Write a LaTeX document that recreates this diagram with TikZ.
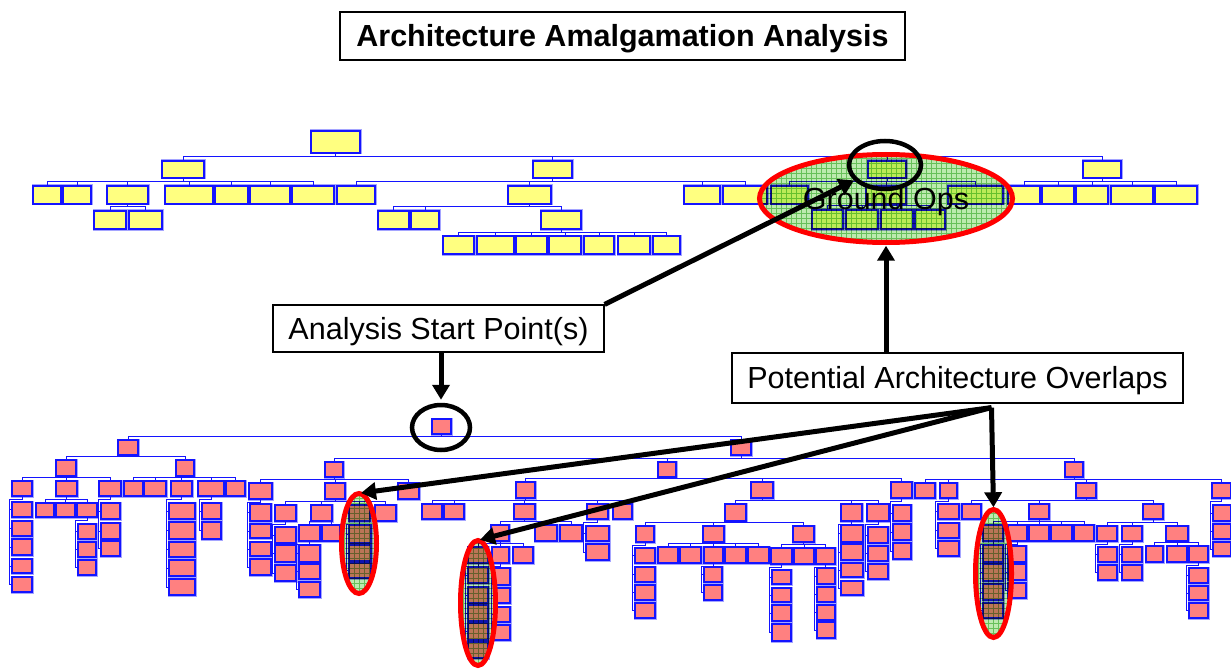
\documentclass[tikz,border=0pt]{standalone}
\usepackage{fontspec}
\setmainfont{Liberation Sans}
\usetikzlibrary{arrows.meta,shapes.geometric}
\definecolor{boxblue}{RGB}{20,20,255}
\definecolor{halo}{RGB}{165,165,255}
\definecolor{yfill}{RGB}{255,255,128}
\definecolor{pfill}{RGB}{255,128,128}
\definecolor{ovgreen}{RGB}{188,234,175}
\definecolor{ovgrid}{RGB}{140,210,132}
\definecolor{ovred}{RGB}{255,0,0}
\tikzset{
  wire/.style={draw=boxblue, line width=0.9pt},
  orgbox/.style={rectangle, draw=boxblue, line width=1.1pt, inner sep=0pt, preaction={draw=halo, line width=3pt}},
  ybox/.style={orgbox, fill=yfill},
  pbox/.style={orgbox, fill=pfill},
  lbl/.style={rectangle, draw=black, line width=1.2pt, fill=white, font=\fontsize{30.5}{36}\selectfont, text height=21.5pt, text depth=0pt, inner sep=0pt},
  hilite/.style={ellipse, inner sep=0pt, fill=ovgreen, blend mode=multiply,
    path picture={\draw[ovgrid, line width=0.45pt, step=5pt] (path picture bounding box.south west) grid (path picture bounding box.north east);},
    postaction={draw=ovred, line width=5pt, blend mode=normal}},
  ring/.style={ellipse, inner sep=0pt, draw=black, line width=4.5pt},
  arr/.style={draw=black, line width=5pt, -{Triangle[length=15pt,width=17pt]}},
}
\begin{document}
\begin{tikzpicture}[x=1pt,y=-1pt]
  \useasboundingbox (0,0) rectangle (1231,671);
  \def\bus{3.5pt} % hauteur du bus
  \def\bx#1#2#3#4#5#6{\node[#1, minimum width={(#5-#3)*1pt}, minimum height={(#6-#4)*1pt}] (#2) at ({(#3+#5)/2},{(#4+#6)/2}) {};}
  \def\hrow#1#2#3#4#5{\foreach \n/\xa/\xb in {#5} {\bx{#1}{\n}{\xa}{#3}{\xb}{#4}
      \draw[wire] (#2.south) |- ([yshift=\bus]\n.north) -- (\n.north);}}
  \def\vrow#1#2#3#4#5{\foreach \n/\ya/\yb in {#5} {\bx{#1}{\n}{#3}{\ya}{#4}{\yb}
      \draw[wire] (#2.south) -- ++(0,3) -| ([xshift=-2pt]\n.west) -- (\n.west);}}

  % top tree
  \bx{ybox}{t0}{311}{131}{360}{153}
  \hrow{ybox}{t0}{161}{178}{t1/162/204, t2/533/572, t3/868/906, t4/1083/1121}
  \hrow{ybox}{t1}{186}{204}{t11/33/61, t12/63/91, t13/107/148, t14/165/213, t15/215/248, t16/250/290, t17/292/334}
  \hrow{ybox}{t13}{211}{229}{t131/94/126, t132/129/162}
  \hrow{ybox}{t2}{186}{204}{t21/337/375, t22/508/551, t23/684/720, t24/723/767}
  \hrow{ybox}{t22}{211}{229}{t221/378/409, t222/411/439, t223/541/581}
  \hrow{ybox}{t223}{236}{254}{t2231/443/474, t2232/477/514, t2233/516/547, t2234/549/581, t2235/584/614, t2236/618/650, t2237/653/680}
  \hrow{ybox}{t3}{186}{204}{t31/771/808, t32/866/906, t33/948/1003}
  \hrow{ybox}{t32}{210}{229}{t321/812/843, t322/846/878, t323/881/913, t324/915/945}
  \hrow{ybox}{t4}{186}{204}{t41/1008/1040, t42/1042/1074, t43/1076/1108, t44/1111/1153, t45/1155/1197}

  % lower tree
  \bx{pbox}{l0}{432}{419}{451}{434}
  \hrow{pbox}{l0}{440}{455}{la/118/138, lb/731/751}
  \hrow{pbox}{la}{460}{476}{la1/56/76, la2/176/194}
  \hrow{pbox}{la1}{481}{496}{la11/12/32, la12/56/77, la13/99/121}
  \hrow{pbox}{la2}{481}{496}{la21/124/143, la22/144/166, la23/171/192, la24/198/224, la25/226/245}
  \vrow{pbox}{la11}{12}{32}{la111/502/517, la112/521/536, la113/539/555, la114/559/573, la115/577/592}
  \hrow{pbox}{la12}{503}{517}{la121/36/54, la122/56/75, la123/77/97}
  \vrow{pbox}{la123}{78}{96}{la1231/524/539, la1232/542/557, la1233/560/575}
  \vrow{pbox}{la13}{101}{120}{la131/503/519, la132/523/539, la133/541/556}
  \vrow{pbox}{la23}{169}{195}{la231/503/519, la232/522/539, la233/542/557, la234/560/576, la235/579/595}
  \vrow{pbox}{la24}{202}{221}{la241/503/519, la242/522/539}

  \hrow{pbox}{lb}{462}{477}{lb1/325/343, lb2/658/676, lb3/1065/1083}
  \hrow{pbox}{lb1}{483}{499}{lb11/249/272, lb12/325/345, lb13/398/419}
  \vrow{pbox}{lb11}{250}{271}{lb111/504/521, lb112/524/538, lb113/542/556, lb114/559/575}
  \hrow{pbox}{lb12}{505}{521}{lb121/275/296, lb122/311/332, lb123/349/370, lb124/375/396}
  \vrow{pbox}{lb121}{275}{296}{lb1211/527/543, lb1212/545/562, lb1213/565/581}
  \hrow{pbox}{lb122}{525}{541}{lb1221/299/320, lb1222/322/340}
  \vrow{pbox}{lb1221}{299}{320}{lb12211/545/562, lb12212/564/579, lb12213/582/597}
  \vrow{pbox}{lb123}{349}{371}{lb1231/525/543, lb1232/545/561, lb1233/563/578}

  \hrow{pbox}{lb2}{482}{498}{lb21/516/535, lb22/751/773, lb23/891/912}
  \hrow{pbox}{lb21}{504}{519}{lb211/422/442, lb212/444/464, lb213/514/535, lb214/587/608, lb215/613/632}
  \hrow{pbox}{lb213}{525}{541}{lb2131/491/509, lb2132/535/557, lb2133/560/582}
  \hrow{pbox}{lb2131}{547}{563}{lb21311/468/488, lb21312/492/509, lb21313/513/533}
  \vrow{pbox}{lb21311}{468}{488}{lb213111/567/583, lb213112/587/603, lb213113/605/621, lb213114/623/640, lb213115/642/658}
  \vrow{pbox}{lb21312}{494}{510}{lb213121/568/585, lb213122/588/603, lb213123/607/622, lb213124/625/640}
  \vrow{pbox}{lb214}{586}{609}{lb2141/526/541, lb2142/544/560}
  \hrow{pbox}{lb22}{504}{521}{lb221/725/746, lb222/841/862, lb223/867/889}
  \hrow{pbox}{lb221}{526}{542}{lb2211/636/654, lb2212/703/724, lb2213/793/814}
  \vrow{pbox}{lb2211}{635}{655}{lb22111/548/563, lb22112/567/582, lb22113/585/600, lb22114/603/618}
  \hrow{pbox}{lb2212}{547}{563}{lb22121/658/678, lb22122/680/701, lb22123/704/723, lb22124/725/746, lb22125/748/769}
  \vrow{pbox}{lb22123}{704}{722}{lb221231/567/582, lb221232/585/600}
  \hrow{pbox}{lb2213}{548}{564}{lb22131/771/792, lb22132/794/814, lb22133/816/835}
  \vrow{pbox}{lb22131}{772}{791}{lb221311/570/584, lb221312/588/602, lb221313/605/621, lb221314/624/641}
  \vrow{pbox}{lb22133}{817}{835}{lb221331/568/584, lb221332/587/602, lb221333/605/620, lb221334/622/638}
  \vrow{pbox}{lb222}{841}{863}{lb2221/525/542, lb2222/544/560, lb2223/563/577, lb2224/581/595}
  \vrow{pbox}{lb223}{868}{888}{lb2231/527/543, lb2232/546/561, lb2233/564/579}
  \vrow{pbox}{lb23}{893}{911}{lb231/505/521, lb232/524/540, lb233/543/559}

  \hrow{pbox}{lb3}{483}{498}{lb31/915/935, lb32/940/957, lb33/1076/1096, lb34/1212/1231}
  \vrow{pbox}{lb32}{938}{959}{lb321/504/519, lb322/523/538, lb323/541/556}
  \hrow{pbox}{lb33}{504}{519}{lb331/962/981, lb332/1029/1049, lb333/1143/1163}
  \hrow{pbox}{lb332}{525}{541}{lb3321/983/1003, lb3322/1008/1027, lb3323/1029/1049, lb3324/1051/1072, lb3325/1074/1094}
  \vrow{pbox}{lb3321}{983}{1003}{lb33211/545/562, lb33212/564/581, lb33213/584/600, lb33214/603/618}
  \vrow{pbox}{lb3322}{1008}{1026}{lb33221/546/562, lb33222/564/580, lb33223/583/598}
  \hrow{pbox}{lb333}{526}{541}{lb3331/1097/1117, lb3332/1122/1142, lb3333/1166/1188}
  \vrow{pbox}{lb3331}{1098}{1117}{lb33311/547/562, lb33312/565/580}
  \vrow{pbox}{lb3332}{1122}{1142}{lb33321/547/562, lb33322/565/580}
  \hrow{pbox}{lb3333}{546}{562}{lb33331/1146/1163, lb33332/1167/1187, lb33333/1189/1208}
  \vrow{pbox}{lb33333}{1189}{1208}{lb333331/568/583, lb333332/586/600, lb333333/603/618}
  \vrow{pbox}{lb34}{1213}{1231}{lb341/505/521, lb342/524/539, lb343/542/556}

  % overlaps
  \node[hilite, minimum width=253pt, minimum height=88pt] (gops) at (886,198.5) {};
  \node[lbl, draw=none, fill=none] (gtext) at (886,199) {Ground Ops};
  \node[hilite, minimum width=35pt, minimum height=100pt] (e1) at (359,543.5) {};
  \node[hilite, minimum width=35pt, minimum height=125pt] (e2) at (478,603) {};
  \node[hilite, minimum width=36pt, minimum height=128pt] (e3) at (993.5,573.5) {};
  \node[ring, minimum width=72pt, minimum height=48pt] (gring) at (885,165) {};
  \node[ring, minimum width=58pt, minimum height=45pt] (rring) at (441,427.5) {};

  % labels
  \node[lbl, font=\fontsize{30.5}{36}\selectfont\bfseries, minimum width=565pt, minimum height=48pt] (title) at (622.5,36) {Architecture Amalgamation Analysis};
  \node[lbl, minimum width=331pt, minimum height=47pt] (start) at (438.5,328.5) {Analysis Start Point(s)};
  \node[lbl, minimum width=451pt, minimum height=50pt] (potential) at (957.5,378) {Potential Architecture Overlaps};

  % arrows
  \draw[arr] (start.north east) -- (gring);
  \draw[arr, shorten >=3pt] (potential.north -| gops.south) -- (gops.south);
  \draw[arr, shorten >=3pt] (start.south -| rring.north) -- (rring.north);
  \coordinate (fork) at ([xshift=34pt,yshift=-4pt]potential.south);
  \foreach \e in {e1,e2,e3}
    \draw[arr, shorten >=2pt] (fork) -- (\e.north);
\end{tikzpicture}
\end{document}
